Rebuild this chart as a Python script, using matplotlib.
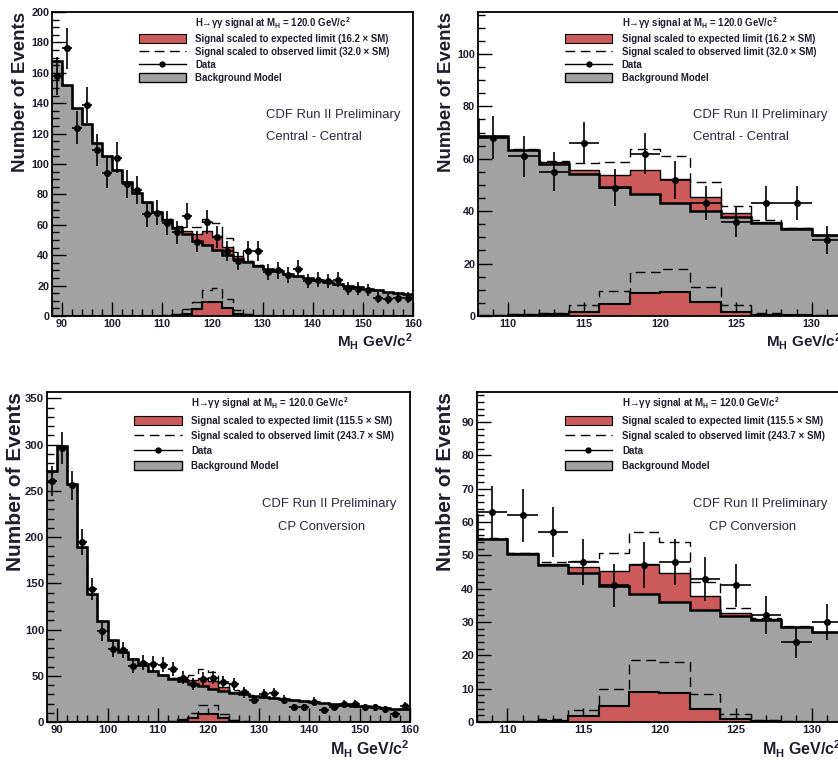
import numpy as np
import matplotlib
matplotlib.use('Agg')
import matplotlib.pyplot as plt
from matplotlib.patches import Patch
from matplotlib.lines import Line2D

FONT = ['Liberation Sans', 'DejaVu Sans']
plt.rcParams['font.family'] = FONT
plt.rcParams['font.weight'] = 'bold'
plt.rcParams['mathtext.default'] = 'regular'

# 2 GeV bins from 88 to 160
edges = np.arange(88, 161, 2)

# Central - Central
cc_bkg = [168, 152, 137, 126, 114, 105, 96, 88, 81, 75,
          68.5, 63.2, 58.0, 54.2, 49.2, 46.7, 43.1, 40.1, 37.8, 35.5,
          33.2, 30.8, 29.5, 27.8, 26.2, 24.8, 23.5, 22.3, 21.2, 19.8,
          18.8, 17.8, 16.8, 15.9, 15.1, 14.4]
cc_exp = [0, 0, 0, 0, 0, 0, 0, 0, 0, 0,
          0.1, 0.3, 0.8, 1.6, 4.6, 8.9, 9.3, 5.3, 1.6, 0.5,
          0.2, 0.1, 0, 0, 0, 0, 0, 0, 0, 0,
          0, 0, 0, 0, 0, 0]
cc_obs = [0, 0, 0, 0, 0, 0, 0, 0, 0, 0,
          0.2, 0.6, 1.0, 4.3, 9.5, 16.9, 18.1, 11.2, 4.1, 1.0,
          0.4, 0.2, 0, 0, 0, 0, 0, 0, 0, 0,
          0, 0, 0, 0, 0, 0]
cc_data = [158, 176, 124, 139, 109, 94, 104, 87, 83, 67,
           68, 61, 55, 66, 49, 62, 52, 43, 36, 43,
           43, 29, 30, 27, 31, 23, 24, 23, 24, 18,
           18, 17, 12, 11, 12, 12]

# CP Conversion
cp_bkg = [272, 299, 257, 189, 138, 109, 89, 76, 68, 62,
          55, 50.5, 47.0, 44.7, 40.7, 38.5, 36.0, 33.7, 31.7, 30.7,
          28.5, 27.0, 26.0, 25.0, 24.0, 23.0, 22.0, 20.5, 19.5, 18.5,
          17.5, 17.0, 16.0, 15.2, 14.5, 14.0]
cp_exp = [0, 0, 0, 0, 0, 0, 0, 0, 0, 0,
          0.0, 0.1, 0.4, 1.7, 4.7, 9.0, 8.8, 4.0, 1.0, 0.3,
          0.1, 0.0, 0, 0, 0, 0, 0, 0, 0, 0,
          0, 0, 0, 0, 0, 0]
cp_obs = [0, 0, 0, 0, 0, 0, 0, 0, 0, 0,
          0.1, 0.3, 1.0, 3.5, 10.0, 18.5, 18.0, 8.3, 2.5, 0.6,
          0.3, 0.1, 0, 0, 0, 0, 0, 0, 0, 0,
          0, 0, 0, 0, 0, 0]
cp_data = [261, 296, 256, 195, 144, 98, 79, 78, 61, 64,
           63, 62, 57, 48, 41, 47, 48, 43, 41, 32,
           24, 30, 31, 24, 16, 16, 22, 13, 16, 19,
           19, 16, 16, 14, 9, 17]

GRAY = '#a2a2a2'
RED = '#cd5a5a'
INK = '#1e1e2c'
DASH = (0, (7, 4))

W, H = 838, 765
fig = plt.figure(figsize=(W / 100, H / 100), dpi=100)


def px_axes(left, top, right, bottom):
    return fig.add_axes([left / W, 1 - bottom / H, (right - left) / W, (bottom - top) / H])


def draw(ax, bkg, exp, obs, data, xlim, ylim, xmaj, xmin, ymaj, ymin,
         scales, subtitle, sub_x, sub_ha, big):
    bkg = np.array(bkg)
    exp = np.array(exp)
    obs = np.array(obs)
    data = np.array(data)
    centers = (edges[:-1] + edges[1:]) / 2

    ax.stairs(bkg, edges, fill=True, color=GRAY, zorder=1)
    ax.stairs(bkg + exp, edges, baseline=bkg, fill=True, color=RED, zorder=2)
    ax.stairs(bkg, edges, baseline=None, color='k', lw=1.8, zorder=3)
    ax.stairs(bkg + exp, edges, baseline=None, color='k', lw=1.0, zorder=3)
    ax.stairs(bkg + obs, edges, baseline=None, color='k', lw=1.0, ls=DASH, zorder=3)
    ax.stairs(exp, edges, fill=True, color=RED, zorder=2)
    ax.stairs(exp, edges, baseline=None, color='k', lw=1.5, zorder=3)
    ax.stairs(obs, edges, baseline=None, color='k', lw=1.0, ls=DASH, zorder=3)
    ax.errorbar(centers, data, xerr=1, yerr=np.sqrt(data), fmt='o', color='k',
                ms=4, elinewidth=1.2, capsize=0, zorder=4)

    ax.set_xticks(np.arange(90, 161, xmaj))
    ax.set_xticks(np.arange(88, 161, xmin), minor=True)
    ax.set_yticks(np.arange(0, ylim[1] + 0.1, ymaj))
    ax.set_yticks(np.arange(0, ylim[1] + 0.1, ymin), minor=True)
    ax.set_xlim(*xlim)
    ax.set_ylim(*ylim)
    ax.tick_params(which='both', direction='in', top=False, right=False,
                   colors='k', labelcolor=INK, labelsize=8.2 if big else 7.8, width=1)
    ax.tick_params(which='major', length=10, pad=2)
    ax.tick_params(which='minor', length=5)
    for lab in ax.get_xticklabels() + ax.get_yticklabels():
        lab.set_fontweight('bold')
    for s in ax.spines.values():
        s.set_linewidth(1.3)

    fs = 7.0 if big else 6.9
    handles = [Line2D([], [], ls='none'),
               Patch(facecolor=RED, edgecolor='k', lw=0.8),
               Line2D([], [], color='k', ls=DASH, lw=1),
               Line2D([], [], color='k', marker='o', ms=3.5, lw=1),
               Patch(facecolor=GRAY, edgecolor='k', lw=1)]
    labels = [r'H→γγ signal at M$_{H}$ = 120.0 GeV/c$^{2}$',
              'Signal scaled to expected limit (%s × SM)' % scales[0],
              'Signal scaled to observed limit (%s × SM)' % scales[1],
              'Data',
              'Background Model']
    ax.legend(handles, labels, loc='upper left', bbox_to_anchor=(0.232, 1.0),
              frameon=False, fontsize=fs, handlelength=4.9, handleheight=1.15,
              handletextpad=1.0, labelspacing=0.5 if big else 0.32,
              borderpad=0.3, borderaxespad=0, labelcolor=INK)

    ax.text(0.592, 0.66, 'CDF Run II Preliminary', transform=ax.transAxes,
            ha='left', va='center', fontsize=9.4, fontweight='normal', color='#2a2a3a')
    ax.text(sub_x, 0.59, subtitle, transform=ax.transAxes,
            ha=sub_ha, va='center', fontsize=9.4, fontweight='normal', color='#2a2a3a')

    ax.text(1.0, -0.05, r'M$_{H}$ GeV/c$^{2}$', transform=ax.transAxes,
            ha='right', va='top', fontsize=11.5 if big else 11, fontweight='bold', color=INK)
    ax.text(-0.087, 1.0, 'Number of Events', transform=ax.transAxes, rotation=90,
            ha='center', va='top', fontsize=15 if big else 13.5, fontweight='bold',
            color=INK)


ax1 = px_axes(52, 12, 413, 316)
draw(ax1, cc_bkg, cc_exp, cc_obs, cc_data, (88, 160), (0, 200), 10, 2, 20, 5,
     ('16.2', '32.0'), 'Central - Central', 0.592, 'left', False)

ax2 = px_axes(478, 12, 842, 316)
draw(ax2, cc_bkg, cc_exp, cc_obs, cc_data, (108, 132), (0, 116), 5, 1, 20, 5,
     ('16.2', '32.0'), 'Central - Central', 0.592, 'left', False)

ax3 = px_axes(47, 392, 410, 722)
draw(ax3, cp_bkg, cp_exp, cp_obs, cp_data, (88, 160), (0, 357), 10, 2, 50, 10,
     ('115.5', '243.7'), 'CP Conversion', 0.757, 'center', True)

ax4 = px_axes(477, 392, 842, 722)
draw(ax4, cp_bkg, cp_exp, cp_obs, cp_data, (108, 132), (0, 99), 5, 1, 10, 2,
     ('115.5', '243.7'), 'CP Conversion', 0.756, 'center', True)

fig.savefig('out.png', dpi=100)
